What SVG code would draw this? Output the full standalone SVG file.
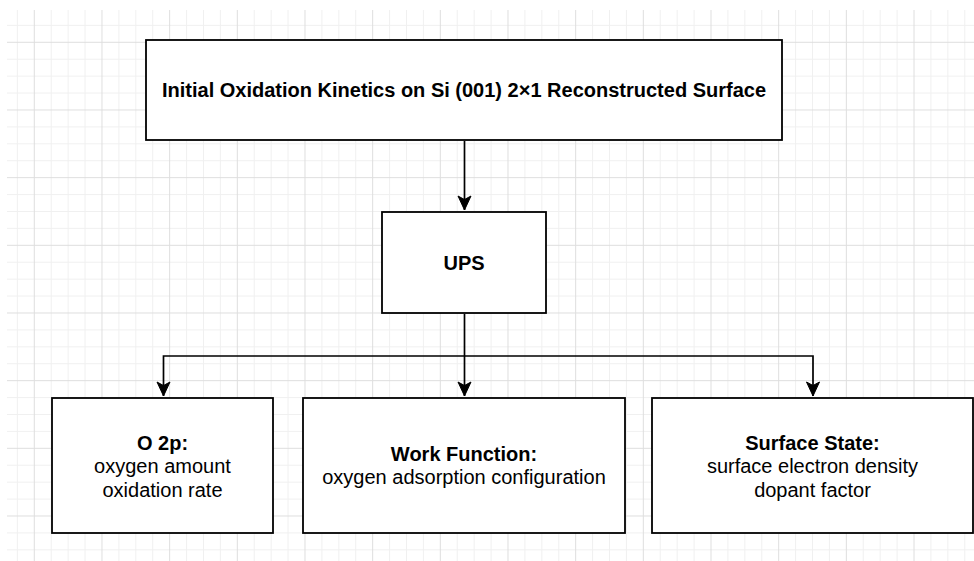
<svg xmlns="http://www.w3.org/2000/svg" width="974" height="561" viewBox="0 0 974 561">
  <defs>
    <pattern id="grid" patternUnits="userSpaceOnUse" x="33.8" y="41.8" width="67.67" height="67.67">
      <rect x="16.92" y="0" width="1" height="67.67" fill="#f0f0f0"/>
      <rect x="33.83" y="0" width="1" height="67.67" fill="#f0f0f0"/>
      <rect x="50.75" y="0" width="1" height="67.67" fill="#f0f0f0"/>
      <rect x="0" y="16.92" width="67.67" height="1" fill="#f0f0f0"/>
      <rect x="0" y="33.83" width="67.67" height="1" fill="#f0f0f0"/>
      <rect x="0" y="50.75" width="67.67" height="1" fill="#f0f0f0"/>
      <rect x="0" y="0" width="1" height="67.67" fill="#dedede"/>
      <rect x="0" y="0" width="67.67" height="1" fill="#dedede"/>
    </pattern>
    <marker id="arrow" markerUnits="userSpaceOnUse" markerWidth="15" markerHeight="14" refX="14" refY="6.5" orient="auto" overflow="visible">
      <path d="M0,0 L14,6.5 L0,13 L3.5,6.5 Z" fill="#000" stroke="#000" stroke-width="1" stroke-linejoin="miter"/>
    </marker>
  </defs>
  <style>
    .box { fill: #ffffff; stroke: #000000; stroke-width: 1.8; }
    .conn { fill: none; stroke: #000000; stroke-width: 1.7; }
    text { font-family: "Liberation Sans", Arial, Helvetica, sans-serif; font-size: 20px; fill: #000000; text-anchor: middle; }
    .b { font-weight: bold; }
  </style>
  <rect x="0" y="0" width="974" height="561" fill="#ffffff"/>
  <rect x="7" y="10" width="967" height="551" fill="url(#grid)"/>

  <g id="connectors">
    <path class="conn" d="M464.5 141 V210" marker-end="url(#arrow)"/>
    <path class="conn" d="M464.5 314 V396" marker-end="url(#arrow)"/>
    <path class="conn" d="M464.5 356 H163.5 V396" marker-end="url(#arrow)"/>
    <path class="conn" d="M464.5 356 H813 V396" marker-end="url(#arrow)"/>
  </g>

  <g id="title">
    <rect class="box" x="146" y="40" width="636" height="100"/>
    <text class="b" x="464" y="97">Initial Oxidation Kinetics on Si (001) 2×1 Reconstructed Surface</text>
  </g>

  <g id="ups">
    <rect class="box" x="382" y="212" width="164" height="101"/>
    <text class="b" x="464" y="270">UPS</text>
  </g>

  <g id="o2p">
    <rect class="box" x="52" y="398" width="221" height="135"/>
    <text x="162.5" y="450"><tspan class="b">O 2p:</tspan></text>
    <text x="162.5" y="473">oxygen amount</text>
    <text x="162.5" y="496.5">oxidation rate</text>
  </g>

  <g id="workfunction">
    <rect class="box" x="303" y="398" width="322" height="135"/>
    <text class="b" x="464" y="460.5">Work Function:</text>
    <text x="464" y="484">oxygen adsorption configuration</text>
  </g>

  <g id="surfacestate">
    <rect class="box" x="652" y="398" width="321" height="135"/>
    <text class="b" x="812.5" y="450">Surface State:</text>
    <text x="812.5" y="473">surface electron density</text>
    <text x="812.5" y="496.5">dopant factor</text>
  </g>
</svg>
